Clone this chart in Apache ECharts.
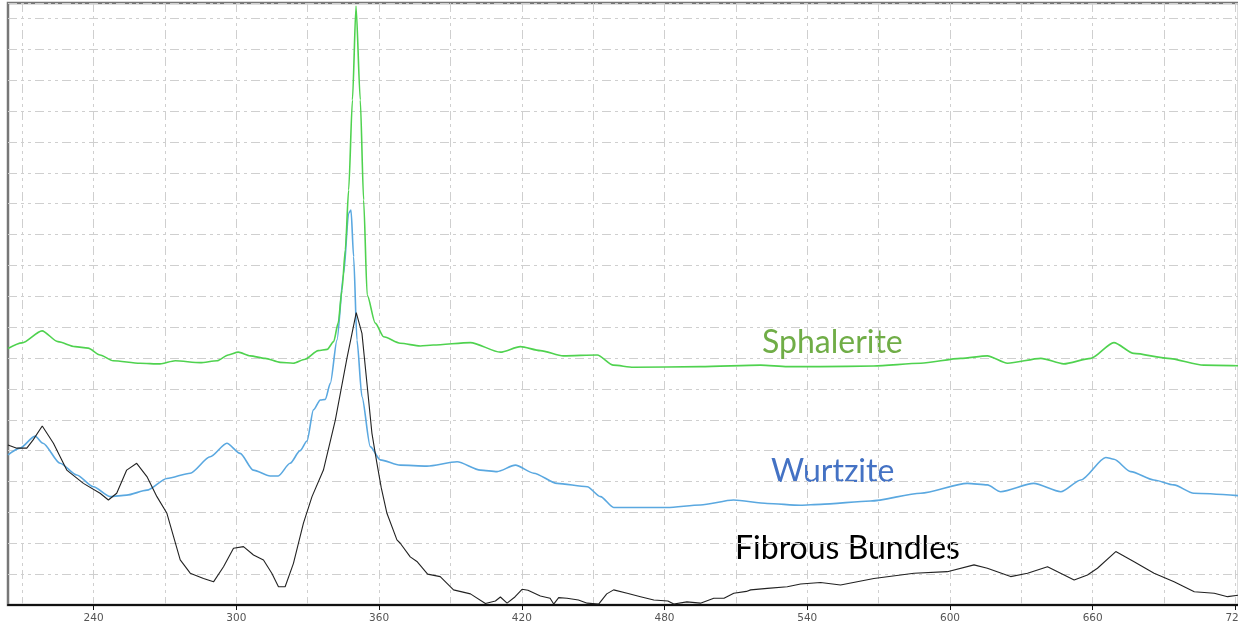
<!DOCTYPE html>
<html>
<head>
<meta charset="utf-8">
<script src="https://cdn.jsdelivr.net/npm/echarts@6/dist/echarts.min.js"></script>
<style>
html,body{margin:0;padding:0;background:#fff;}
#chart{width:1238px;height:632px;}
</style>
</head>
<body>
<div id="chart"></div>
<script>
// Raman shift (cm-1) and relative intensity (arbitrary units, 1 = one grid row)
const sphaleriteX = [204.0,209.9,218.3,225.0,232.2,237.7,242.7,248.2,259.5,267.9,274.3,284.8,291.9,296.6,300.8,305.8,312.1,318.4,323.9,328.9,334.4,338.2,340.9,342.8,344.4,345.8,347.2,348.8,350.3,352.1,353.5,355.0,358.4,361.9,368.9,377.3,382.8,398.4,411.0,419.4,427.8,437.5,451.7,458.5,466.9,495.1,520.4,531.7,545.6,567.9,587.7,604.5,615.7,624.2,638.2,647.8,659.2,668.9,677.3,691.6,706.7,721.5];
const sphaleriteY = [8.31,8.49,8.88,8.53,8.37,8.32,8.10,7.91,7.83,7.81,7.91,7.85,7.91,8.10,8.19,8.07,7.99,7.86,7.83,7.96,8.24,8.28,8.53,9.13,10.20,11.50,13.44,16.36,19.40,16.36,13.12,10.04,9.13,8.69,8.48,8.39,8.42,8.50,8.19,8.37,8.24,8.07,8.10,7.77,7.70,7.72,7.77,7.72,7.72,7.74,7.83,7.99,8.07,7.83,7.99,7.81,7.99,8.50,8.15,7.99,7.77,7.75];

const wurtziteX = [204.0,209.0,215.4,218.7,225.9,232.9,239.9,246.9,253.9,262.4,270.8,280.6,289.0,296.0,301.6,307.1,314.2,317.6,322.6,326.8,329.7,332.4,335.3,337.4,339.5,342.3,345.1,347.2,348.2,349.3,350.7,352.8,356.3,360.5,368.9,380.1,392.8,402.6,409.6,417.3,425.0,434.8,447.5,453.1,458.6,481.1,495.1,509.0,523.2,537.2,545.6,566.6,587.7,607.3,615.7,621.3,635.2,646.6,655.0,665.5,668.9,676.0,685.7,694.1,702.5,721.5];
const wurtziteY = [4.86,5.08,5.47,5.24,4.59,4.21,3.83,3.51,3.56,3.72,4.10,4.27,4.80,5.24,4.91,4.37,4.18,4.18,4.59,5.00,5.31,6.32,6.64,6.66,7.18,8.58,10.74,12.69,12.79,11.28,8.58,6.75,5.13,4.70,4.53,4.50,4.64,4.37,4.32,4.53,4.27,3.94,3.83,3.51,3.16,3.16,3.24,3.40,3.29,3.23,3.26,3.37,3.62,3.94,3.89,3.67,3.94,3.67,4.05,4.78,4.72,4.32,4.05,3.89,3.62,3.54];

const fibrousX = [204.0,207.7,211.9,214.5,218.4,223.1,228.7,235.7,242.7,246.2,249.7,253.9,258.1,262.4,266.6,270.8,276.4,280.6,286.2,290.4,294.6,298.8,303.0,307.2,311.4,314.9,317.7,320.5,324.0,328.2,331.8,336.6,341.6,346.5,350.4,352.8,354.9,357.0,359.1,360.9,363.3,367.5,368.9,373.1,375.9,380.4,385.7,391.3,398.4,404.7,408.9,411.0,413.8,417.1,420.1,422.6,427.8,431.9,433.4,435.5,439.0,443.8,447.5,452.3,455.7,458.6,464.3,469.9,475.5,481.4,483.9,489.4,495.1,500.7,505.0,509.1,514.4,516.2,523.2,531.6,537.2,545.6,554.0,568.0,584.9,598.9,610.1,615.7,625.5,632.6,641.0,652.2,657.8,662.0,669.7,677.4,685.8,694.2,702.7,711.1,716.7,721.5];
const fibrousY = [5.18,5.08,5.08,5.34,5.80,5.24,4.37,3.94,3.62,3.40,3.62,4.37,4.59,4.16,3.51,2.97,1.46,1.03,0.86,0.75,1.24,1.84,1.89,1.62,1.46,1.03,0.59,0.59,1.35,2.65,3.51,4.37,5.99,8.00,9.47,8.80,7.18,5.56,4.59,3.80,2.97,2.11,2.00,1.56,1.41,1.00,0.92,0.49,0.36,0.05,0.13,0.26,0.06,0.26,0.51,0.48,0.29,0.22,0.03,0.24,0.22,0.16,0.06,0.03,0.36,0.49,0.38,0.27,0.16,0.13,0.03,0.10,0.06,0.22,0.22,0.38,0.44,0.49,0.54,0.59,0.68,0.73,0.65,0.86,1.03,1.08,1.30,1.19,0.92,1.03,1.24,0.81,0.97,1.19,1.73,1.40,1.03,0.75,0.43,0.38,0.27,0.32];

const tickLabels = [240,300,360,420,480,540,600,660,720];
const gridXValues = [210,240,270,300,330,360,390,420,450,480,510,540,570,600,630,660,690,720];
const seriesNames = ['Sphalerite','Wurtzite','Fibrous Bundles'];

function pairs(xs, ys){ return xs.map((x,i)=>[x, ys[i]]); }

const chart = echarts.init(document.getElementById('chart'), null, {renderer:'canvas'});
const dash = [9,4,3,4,3,4];
const option = {
  animation:false,
  backgroundColor:'#ffffff',
  grid:{left:8,right:-1,top:3,bottom:27,show:true,borderColor:'#777',borderWidth:2.5,
        backgroundColor:'transparent',containLabel:false,outerBoundsMode:'none'},
  xAxis:[
    {type:'value',min:204,max:721.5,gridIndex:0,position:'bottom',
     axisLine:{show:false},axisLabel:{show:false},
     axisTick:{show:false,customValues:gridXValues},
     splitLine:{show:true,lineStyle:{color:'#cfcfcf',width:1,type:dash}}},
    {type:'value',min:204,max:721.5,gridIndex:0,position:'bottom',
     axisLine:{show:true,onZero:false,lineStyle:{color:'#111',width:2}},
     axisTick:{show:true,length:5,customValues:tickLabels,lineStyle:{color:'#111',width:1}},
     axisLabel:{show:true,customValues:tickLabels,color:'#555',fontSize:10.5,fontFamily:'DejaVu Sans',margin:8,hideOverlap:false},
     splitLine:{show:false}}
  ],
  yAxis:{type:'value',min:0,max:19.5,interval:1,
    axisLine:{show:false},axisTick:{show:false},axisLabel:{show:false},
    splitLine:{show:true,lineStyle:{color:'#cfcfcf',width:1,type:dash}}},
  series:[
    {name:seriesNames[0],type:'line',xAxisIndex:0,data:pairs(sphaleriteX,sphaleriteY),showSymbol:false,
     smooth:0.25,smoothMonotone:'x',lineStyle:{color:'#4fd24f',width:1.6},z:3},
    {name:seriesNames[1],type:'line',xAxisIndex:0,data:pairs(wurtziteX,wurtziteY),showSymbol:false,
     smooth:0.25,smoothMonotone:'x',lineStyle:{color:'#5aa8e0',width:1.6},z:2},
    {name:seriesNames[2],type:'line',xAxisIndex:0,data:pairs(fibrousX,fibrousY),showSymbol:false,
     lineStyle:{color:'#222',width:1.1},z:4}
  ],
  graphic:[
    {type:'text',left:762,top:327,style:{text:seriesNames[0],fill:'#70AD47',font:'32px Lato'}},
    {type:'text',left:771,top:456,style:{text:seriesNames[1],fill:'#4472C4',font:'32px Lato'}},
    {type:'text',left:735,top:533,style:{text:seriesNames[2],fill:'#000',font:'32px Lato'}}
  ]
};
chart.setOption(option);
</script>
</body>
</html>
